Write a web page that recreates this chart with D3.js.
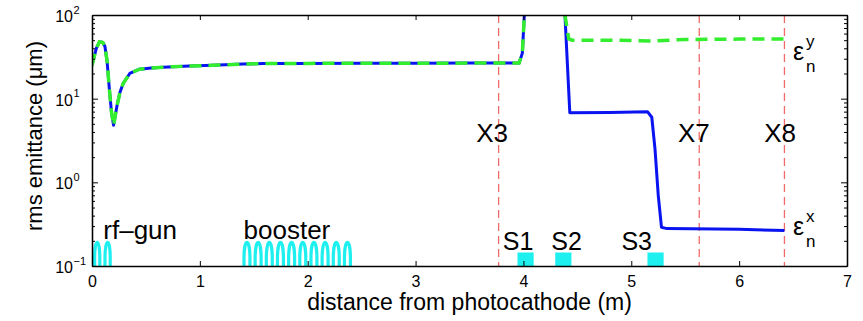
<!DOCTYPE html>
<html>
<head>
<meta charset="utf-8">
<script src="https://cdn.jsdelivr.net/npm/d3@7"></script>
<style>
  body { margin: 0; background: #fff; }
  svg { display: block; }
  text { font-family: "Liberation Sans", Arial, Helvetica, sans-serif; fill: #000; }
</style>
</head>
<body>
<svg id="chart" width="863" height="321"></svg>
<script>
// Axis ticks
const xTickValues = [0, 1, 2, 3, 4, 5, 6, 7];
const yDecades = [-1, 0, 1, 2];

// Horizontal emittance (m, um)
const sX = [0, 0.04, 0.07, 0.1, 0.12, 0.14, 0.16, 0.18, 0.2, 0.23, 0.26, 0.29, 0.35, 0.44, 0.55, 0.66,
            0.9, 1.12, 1.4, 1.6, 2.0, 2.5, 3.0, 3.5, 3.96, 3.99, 4.01, 4.03,
            4.37, 4.385, 4.43, 4.8, 5.15, 5.19, 5.22, 5.25, 5.28, 5.33, 6.0, 6.42];
const epsX = [25, 40, 48, 47, 42, 28, 13.5, 7, 4.8, 8, 12, 15.3, 20, 22.5, 23.3, 23.8,
              24.5, 25, 25.9, 26.3, 26.4, 26.5, 26.5, 26.6, 26.7, 35, 110, 300,
              300, 100, 6.8, 6.85, 7.0, 6.0, 2.5, 0.7, 0.29, 0.28, 0.275, 0.265];

// Vertical emittance (m, um)
const sY = [0, 0.04, 0.07, 0.1, 0.12, 0.14, 0.16, 0.18, 0.2, 0.23, 0.26, 0.29, 0.35, 0.44, 0.55, 0.66,
            0.9, 1.12, 1.4, 1.6, 2.0, 2.5, 3.0, 3.5, 3.96, 3.99, 4.01, 4.03,
            4.37, 4.385, 4.42, 4.45, 4.8, 5.2, 5.5, 6.0, 6.42];
const epsY = [25, 40, 48, 47, 42, 28, 13.5, 7, 4.8, 8, 12, 15.3, 20, 22.5, 23.3, 23.8,
              24.5, 25, 25.9, 26.3, 26.4, 26.5, 26.5, 26.6, 26.7, 35, 110, 300,
              300, 100, 52, 50, 50, 49, 51, 51.5, 51.5];

// Screen stations
const screenNames = ["X3", "X7", "X8"];
const screenPos = [3.77, 5.63, 6.42];

// Solenoids
const magnetNames = ["S1", "S2", "S3"];
const magnetCentre = [4.02, 4.37, 5.225];
const magnetLength = 0.15;
const magnetHeight = 0.145;

// RF cavities
const cavityNames = ["rf\u2013gun", "booster"];
const cavityStart = [0, 1.385];
const cavityCells = [2, 10];
const cavityCellLength = [0.0965, 0.1035];
const cavityHeight = 0.2;

const svg = d3.select("#chart");
const L = 92, R = 847, T = 15, B = 266;

const x = d3.scaleLinear().domain([0, 7]).range([L, R]);
const y = d3.scaleLog().domain([0.1, 100]).range([B, T]);

svg.append("defs").append("clipPath").attr("id", "plot")
  .append("rect").attr("x", L).attr("y", T).attr("width", R - L).attr("height", B - T);

const plot = svg.append("g").attr("clip-path", "url(#plot)");

// screen positions
plot.selectAll("line.screen").data(screenPos).join("line")
  .attr("class", "screen")
  .attr("x1", d => x(d)).attr("x2", d => x(d))
  .attr("y1", T).attr("y2", B)
  .attr("stroke", "#f06a6a").attr("stroke-width", 1.3)
  .attr("stroke-dasharray", "8,5");

// emittance curves
const line = d3.line().x(d => x(d[0])).y(d => y(d[1]));
plot.append("path").datum(d3.zip(sX, epsX))
  .attr("d", line).attr("fill", "none")
  .attr("stroke", "#0a14f0").attr("stroke-width", 3).attr("stroke-linejoin", "round");
plot.append("path").datum(d3.zip(sY, epsY))
  .attr("d", line).attr("fill", "none")
  .attr("stroke", "#33ee2e").attr("stroke-width", 3.5)
  .attr("stroke-dasharray", "12,7");

// cavities: one arch per cell
const cyan = "#1ef0f0";
const cells = [];
cavityStart.forEach((s0, k) => {
  for (let i = 0; i < cavityCells[k]; i++) {
    cells.push([s0 + i * cavityCellLength[k], s0 + (i + 1) * cavityCellLength[k]]);
  }
});
const inset = 2.6;
plot.selectAll("path.cell").data(cells).join("path")
  .attr("class", "cell")
  .attr("d", d => {
    const x0 = x(d[0]) + inset, x1 = x(d[1]) - inset;
    const rx = (x1 - x0) / 2;
    const yb = y(0.1) + 2, yt = y(cavityHeight) + 1.5;
    const ry = (yb - yt) * 0.6;
    return `M${x0},${yb}L${x0},${yt + ry}A${rx},${ry} 0 0 1 ${x1},${yt + ry}L${x1},${yb}`;
  })
  .attr("fill", "none").attr("stroke", cyan).attr("stroke-width", 3.2);

// solenoids
plot.selectAll("rect.mag").data(magnetCentre).join("rect")
  .attr("class", "mag")
  .attr("x", d => x(d - magnetLength / 2))
  .attr("width", d => x(d + magnetLength / 2) - x(d - magnetLength / 2))
  .attr("y", y(magnetHeight))
  .attr("height", y(0.1) - y(magnetHeight))
  .attr("fill", cyan);

// axes
const minorTicks = [];
yDecades.slice(0, -1).forEach(d => { for (let k = 2; k <= 9; k++) minorTicks.push(k * Math.pow(10, d)); });
const majorTicks = yDecades.map(d => Math.pow(10, d));

function styleAxis(g) {
  g.selectAll("path.domain").attr("stroke", "#000").attr("stroke-width", 1.3);
  g.selectAll(".tick line").attr("stroke", "#000").attr("stroke-width", 1);
}

svg.append("g").attr("transform", `translate(0,${B})`)
  .call(d3.axisBottom(x).tickValues(xTickValues).tickFormat(d3.format("d"))
    .tickSizeInner(-5).tickSizeOuter(0).tickPadding(10))
  .call(styleAxis)
  .call(g => g.selectAll(".tick text").attr("font-size", 16).attr("font-family", "Liberation Sans, Arial, sans-serif"));

svg.append("g").attr("transform", `translate(0,${T})`)
  .call(d3.axisTop(x).tickValues(xTickValues).tickSizeInner(-5).tickSizeOuter(0).tickFormat(""))
  .call(styleAxis);

[[d3.axisLeft, L], [d3.axisRight, R]].forEach(([ax, pos]) => {
  svg.append("g").attr("transform", `translate(${pos},0)`)
    .call(ax(y).tickValues(minorTicks).tickSizeInner(-3).tickSizeOuter(0).tickFormat(""))
    .call(styleAxis);
  svg.append("g").attr("transform", `translate(${pos},0)`)
    .call(ax(y).tickValues(majorTicks).tickSizeInner(-6).tickSizeOuter(0).tickFormat(""))
    .call(styleAxis);
});

// y tick labels 10^n
const yl = svg.append("g");
yDecades.forEach(d => {
  const ty = y(Math.pow(10, d));
  yl.append("text").attr("x", 73).attr("y", ty + 7).attr("text-anchor", "end")
    .attr("font-size", 16).text("10");
  yl.append("text").attr("x", 73.5).attr("y", ty - 1.5)
    .attr("font-size", 11).text(d < 0 ? "\u2212" + (-d) : String(d));
});

// axis titles
svg.append("text").attr("x", x(3.5)).attr("y", 310).attr("text-anchor", "middle")
  .attr("font-size", 23).text("distance from photocathode (m)");
svg.append("text").attr("transform", "translate(42,136) rotate(-90)").attr("text-anchor", "middle")
  .attr("font-size", 22).text("rms emittance (\u03bcm)");

// annotations
const screenLabelPos = [3.71, 5.58, 6.38];
svg.selectAll("text.screen").data(screenNames).join("text")
  .attr("class", "screen")
  .attr("x", (d, i) => x(screenLabelPos[i])).attr("y", 142)
  .attr("text-anchor", "middle").attr("font-size", 26).text(d => d);

const magnetLabelPos = [3.95, 4.40, 5.05];
svg.selectAll("text.mag").data(magnetNames).join("text")
  .attr("class", "mag")
  .attr("x", (d, i) => x(magnetLabelPos[i])).attr("y", 250)
  .attr("text-anchor", "middle").attr("font-size", 25).text(d => d);

const cavityLabelPos = [0.105, 1.405];
svg.selectAll("text.cav").data(cavityNames).join("text")
  .attr("class", "cav")
  .attr("x", (d, i) => x(cavityLabelPos[i])).attr("y", 239)
  .attr("font-size", 26).text(d => d);

// curve labels
function epsLabel(base, sup) {
  const g = svg.append("g");
  g.append("text").attr("x", 793).attr("y", base).attr("font-size", 25).text("\u03b5");
  g.append("text").attr("x", 806).attr("y", base - 13).attr("font-size", 17).text(sup);
  g.append("text").attr("x", 806).attr("y", base + 12).attr("font-size", 17).text("n");
}
epsLabel(60, "y");
epsLabel(235, "x");
</script>
</body>
</html>
